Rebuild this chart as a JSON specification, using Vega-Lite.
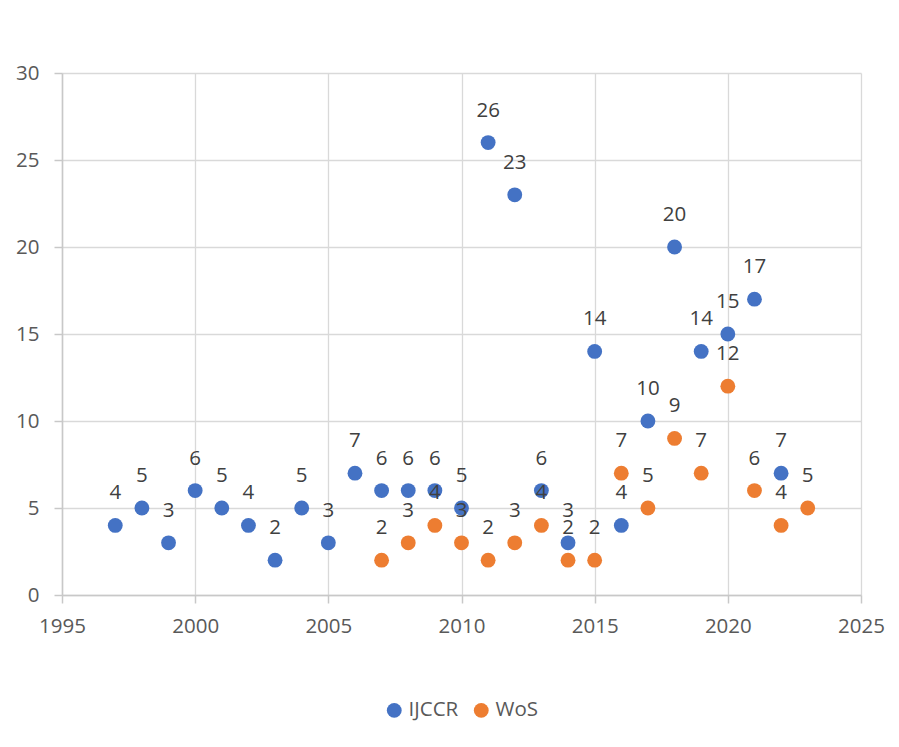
{
  "$schema": "https://vega.github.io/schema/vega-lite/v6.json",
  "autosize": {"type": "none"},
  "width": 799,
  "height": 522,
  "padding": {"left": 62, "top": 73, "right": 38, "bottom": 152},
  "background": "white",
  "config": {
    "view": {"stroke": null},
    "font": "Open Sans",
    "axis": {
      "gridColor": "#d9d9d9",
      "gridWidth": 1.3,
      "domainColor": "#c8c8c8",
      "domainWidth": 1.5,
      "tickColor": "#c8c8c8",
      "tickWidth": 1.5,
      "tickSize": 8,
      "labelFont": "Open Sans",
      "labelFontSize": 20.5,
      "labelColor": "#595959",
      "title": null
    }
  },
  "data": {
    "values": [
      {"year": 1997, "count": 4, "series": "IJCCR"},
      {"year": 1998, "count": 5, "series": "IJCCR"},
      {"year": 1999, "count": 3, "series": "IJCCR"},
      {"year": 2000, "count": 6, "series": "IJCCR"},
      {"year": 2001, "count": 5, "series": "IJCCR"},
      {"year": 2002, "count": 4, "series": "IJCCR"},
      {"year": 2003, "count": 2, "series": "IJCCR"},
      {"year": 2004, "count": 5, "series": "IJCCR"},
      {"year": 2005, "count": 3, "series": "IJCCR"},
      {"year": 2006, "count": 7, "series": "IJCCR"},
      {"year": 2007, "count": 6, "series": "IJCCR"},
      {"year": 2008, "count": 6, "series": "IJCCR"},
      {"year": 2009, "count": 6, "series": "IJCCR"},
      {"year": 2010, "count": 5, "series": "IJCCR"},
      {"year": 2011, "count": 26, "series": "IJCCR"},
      {"year": 2012, "count": 23, "series": "IJCCR"},
      {"year": 2013, "count": 6, "series": "IJCCR"},
      {"year": 2014, "count": 3, "series": "IJCCR"},
      {"year": 2015, "count": 14, "series": "IJCCR"},
      {"year": 2016, "count": 4, "series": "IJCCR"},
      {"year": 2017, "count": 10, "series": "IJCCR"},
      {"year": 2018, "count": 20, "series": "IJCCR"},
      {"year": 2019, "count": 14, "series": "IJCCR"},
      {"year": 2020, "count": 15, "series": "IJCCR"},
      {"year": 2021, "count": 17, "series": "IJCCR"},
      {"year": 2022, "count": 7, "series": "IJCCR"},
      {"year": 2007, "count": 2, "series": "WoS"},
      {"year": 2008, "count": 3, "series": "WoS"},
      {"year": 2009, "count": 4, "series": "WoS"},
      {"year": 2010, "count": 3, "series": "WoS"},
      {"year": 2011, "count": 2, "series": "WoS"},
      {"year": 2012, "count": 3, "series": "WoS"},
      {"year": 2013, "count": 4, "series": "WoS"},
      {"year": 2014, "count": 2, "series": "WoS"},
      {"year": 2015, "count": 2, "series": "WoS"},
      {"year": 2016, "count": 7, "series": "WoS"},
      {"year": 2017, "count": 5, "series": "WoS"},
      {"year": 2018, "count": 9, "series": "WoS"},
      {"year": 2019, "count": 7, "series": "WoS"},
      {"year": 2020, "count": 12, "series": "WoS"},
      {"year": 2021, "count": 6, "series": "WoS"},
      {"year": 2022, "count": 4, "series": "WoS"},
      {"year": 2023, "count": 5, "series": "WoS"}
    ]
  },
  "encoding": {
    "x": {
      "field": "year",
      "type": "quantitative",
      "scale": {"domain": [1995, 2025], "nice": false, "zero": false},
      "axis": {"values": [1995, 2000, 2005, 2010, 2015, 2020, 2025], "format": "d", "labelPadding": 13, "labelFlush": false}
    },
    "y": {
      "field": "count",
      "type": "quantitative",
      "scale": {"domain": [0, 30], "nice": false},
      "axis": {"values": [0, 5, 10, 15, 20, 25, 30], "labelPadding": 15}
    }
  },
  "layer": [
    {
      "mark": {"type": "circle", "size": 220, "opacity": 1},
      "encoding": {
        "color": {
          "field": "series",
          "type": "nominal",
          "scale": {"domain": ["IJCCR", "WoS"], "range": ["#4472C4", "#ED7D31"]},
          "legend": {
            "title": null,
            "orient": "none",
            "direction": "horizontal",
            "legendX": 322,
            "legendY": 627,
            "symbolType": "circle",
            "symbolSize": 220,
            "symbolOpacity": 1,
            "labelFont": "Open Sans",
            "labelFontSize": 20.5,
            "labelColor": "#595959",
            "columnPadding": 12,
            "labelOffset": 4
          }
        }
      }
    },
    {
      "mark": {"type": "text", "dy": -32, "fontSize": 20.5, "color": "#404040", "font": "Open Sans", "baseline": "middle"},
      "encoding": {"text": {"field": "count", "type": "quantitative"}}
    }
  ]
}
